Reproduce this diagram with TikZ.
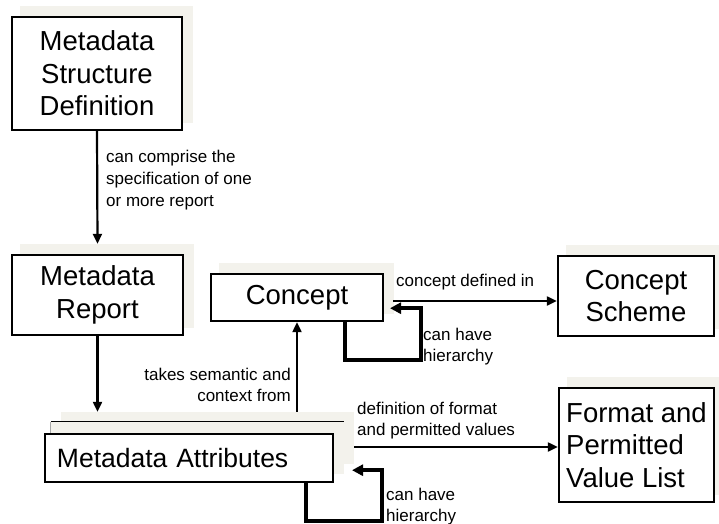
\documentclass[tikz,border=0pt]{standalone}
\usepackage{fontspec}
\setmainfont{Liberation Sans}
\usetikzlibrary{arrows.meta,backgrounds}
\definecolor{shadowtone}{RGB}{243,242,236}
\tikzset{
  box/.style={draw=black, line width=2.4bp, fill=white, inner sep=0pt, align=center,
    font=\fontsize{27.5bp}{32.5bp}\selectfont},
  lbl/.style={font=\fontsize{17bp}{21bp}\selectfont, inner sep=0pt},
  arr/.style={line width=2.2bp, -{Triangle[length=10bp,width=9bp]}},
  selfloop/.style={line width=3.8bp, line join=miter, -{Triangle[length=11bp,width=11bp]}},
}
\begin{document}
\begin{tikzpicture}[x=1bp,y=-1bp]
\useasboundingbox (0,0) rectangle (719,524);

% boxes
\node[box, minimum width=170bp, minimum height=113bp] (msd) at (97,73.5) {Metadata\\Structure\\Definition};
\node[box, minimum width=171bp, minimum height=80bp] (mr) at (97.5,295) {Metadata\\Report};
\node[box, minimum width=172bp, minimum height=47bp] (concept) at (297,297.5) {Concept};
\node[box, minimum width=156bp, minimum height=80bp] (cs) at (636,296) {Concept\\Scheme};
\node[box, minimum width=155bp, minimum height=114bp, align=left] (fmt) at (636.5,445) {Format and\\Permitted\\Value List};
\node[box, minimum width=288bp, minimum height=48bp, text width=264bp, inner xsep=12bp, align=left,
      font=\fontsize{26.5bp}{32.5bp}\selectfont] (ma) at (189,458) {Metadata Attributes};

% drop shadows and the stacked sheets behind the attributes box
\begin{scope}[on background layer]
  \fill[white] (0,0) rectangle (719,524);
  \foreach \n in {msd,mr,concept,cs,fmt}
    \fill[shadowtone] ([shift={(9bp,8bp)}]\n.south west) rectangle ([shift={(10bp,10bp)}]\n.north east);
  \fill[shadowtone] ([shift={(17bp,19bp)}]ma.south west) rectangle ([shift={(20bp,21bp)}]ma.north east);
  \fill[shadowtone] ([shift={(7bp,9bp)}]ma.south west) rectangle ([shift={(10bp,11bp)}]ma.north east);
  \draw[black, line width=1bp] ([shift={(7bp,11bp)}]ma.north west) -- ([shift={(10bp,11bp)}]ma.north east);
  \draw[black!35, line width=0.8bp] ([shift={(7bp,11bp)}]ma.north west) -- ([shift={(7bp,0bp)}]ma.north west);
\end{scope}

\coordinate (matop) at ([yshift=21bp]ma.north);
\coordinate (cd) at ([shift={(9bp,-3.5bp)}]concept.east);
\coordinate (dv) at ([shift={(20bp,11bp)}]ma.east);

% connectors
\draw[arr] (msd.south) -- ([yshift=10bp]mr.north);
\draw[arr] (mr.south) -- (mr.south |- matop);
\draw[arr] (concept.south |- matop) -- (concept.south);
\draw[arr] (cd) -- (cd -| cs.west);
\draw[arr] (dv) -- (dv -| fmt.west);
\draw[selfloop] ([xshift=48bp]concept.south) -- ++(0,38) -| ++(76,-52) -- ++(-31,0);
\draw[selfloop] ([xshift=117bp]ma.south) -- ++(0,38) -| ++(76,-51) -- ++(-30,0);

% labels
\node[lbl, anchor=west, align=left, font=\fontsize{17bp}{22bp}\selectfont] (lcomp) at (106,180) {can comprise the\\specification of one\\or more report};
\node[lbl, anchor=east, align=right] (lsem) at (291,385) {takes semantic and\\context from};
\node[lbl, anchor=west] (ldef) at (396,282) {concept defined in};
\node[lbl, anchor=west, align=left] (lhier1) at (423,347) {can have\\hierarchy};
\node[lbl, anchor=west, align=left] (lfmt) at (357,421) {definition of format\\and permitted values};
\node[lbl, anchor=west, align=left] (lhier2) at (386,507) {can have\\hierarchy};
\end{tikzpicture}
\end{document}
